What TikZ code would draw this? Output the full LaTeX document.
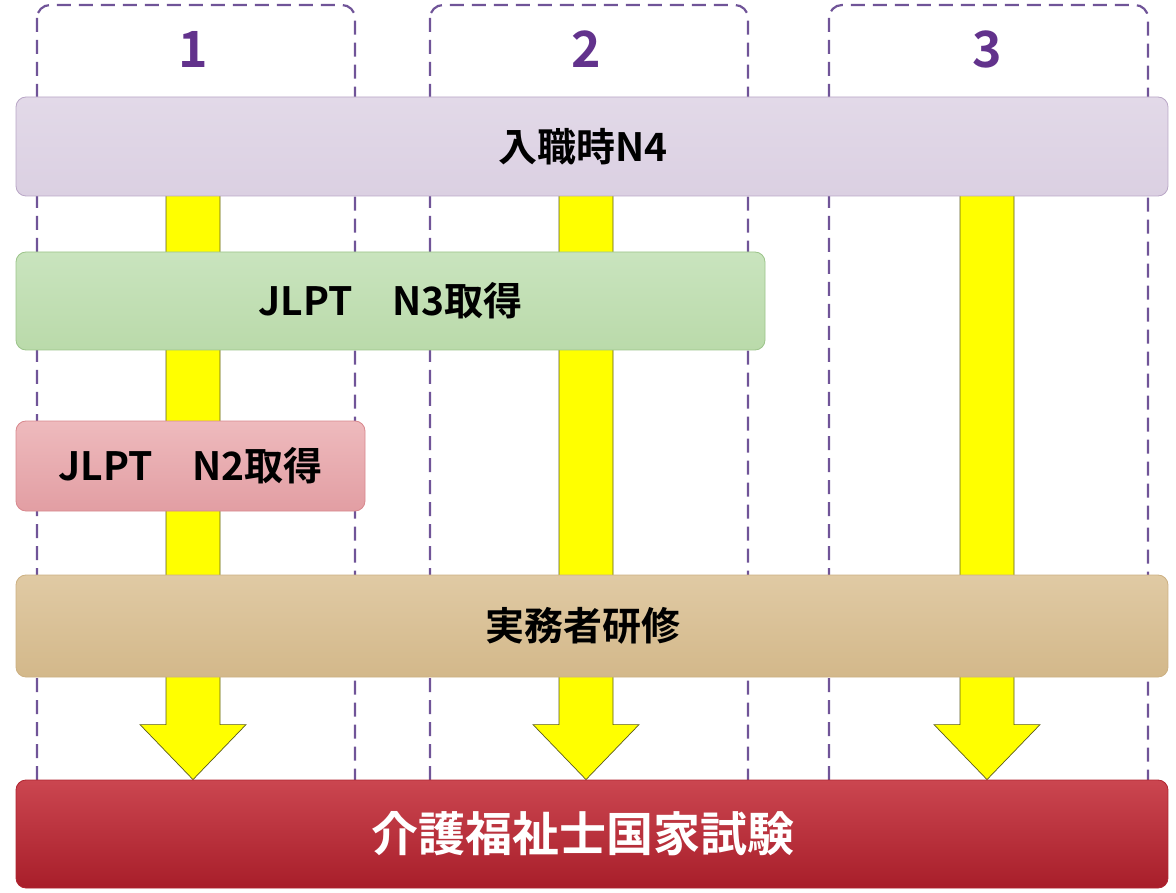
\documentclass[tikz,border=0pt]{standalone}
\usepackage{fontspec}
\setmainfont{Noto Sans CJK JP}[BoldFont={* Bold}]
\usepackage{tikz}
\usetikzlibrary{positioning,calc,backgrounds}
\definecolor{colline}{RGB}{112,84,152}
\definecolor{numcol}{RGB}{98,50,140}
\definecolor{arrowfill}{RGB}{255,255,0}
\definecolor{arrowline}{RGB}{90,90,30}
\tikzset{
x=1pt, y=-1pt, % one unit is one pixel of the slide, y runs downwards
colbox/.style={draw=colline, line width=2.2pt, dash pattern=on 14pt off 8pt, rounded corners=13pt}, % the dashed column frames
colnum/.style={text=numcol, font=\fontsize{50}{56}\selectfont\bfseries}, % the column numbers
bar/.style={rectangle, rounded corners=10pt, line width=0.8pt, inner sep=0pt, font=\fontsize{39}{44}\selectfont\bfseries}, % every bar
widebar/.style={bar, execute at begin node={\hspace*{-18pt}}}, % full width bars, text a bit left
bigarrow/.style={fill=arrowfill, draw=arrowline, line width=0.7pt, line join=miter}, % the yellow block arrows
}
\begin{document}
\begin{tikzpicture}
        \useasboundingbox (0,0) rectangle (1176,893);
        \node[colnum] at (193,49) (n1) {1};
        \node[colnum] at (586,49) (n2) {2};
        \node[colnum] at (987,49) (n3) {3};
        \node[widebar, draw={rgb,255:red,185;green,166;blue,198}, top color={rgb,255:red,226;green,217;blue,232}, bottom color={rgb,255:red,219;green,208;blue,226}, minimum width=1152, minimum height=99] at (592,146.5) (top) {入職時N4};
        \node[bar, draw={rgb,255:red,156;green,196;blue,138}, top color={rgb,255:red,201;green,228;blue,190}, bottom color={rgb,255:red,186;green,218;blue,170}, minimum width=749, minimum height=98] at (390.5,301) (n3get) {JLPT　N3取得};
        \node[bar, draw={rgb,255:red,216;green,136;blue,142}, top color={rgb,255:red,238;green,186;blue,189}, bottom color={rgb,255:red,226;green,158;blue,163}, minimum width=349, minimum height=90] at (190.5,466) (n2get) {JLPT　N2取得};
        \node[widebar, draw={rgb,255:red,204;green,176;blue,130}, top color={rgb,255:red,224;green,202;blue,164}, bottom color={rgb,255:red,211;green,184;blue,138}, minimum width=1152, minimum height=102] at (592,626) (train) {実務者研修};
        \node[widebar, draw={rgb,255:red,176;green,36;blue,48}, top color={rgb,255:red,203;green,70;blue,80}, bottom color={rgb,255:red,168;green,30;blue,42}, text=white, font=\fontsize{47}{54}\selectfont\bfseries, minimum width=1152, minimum height=108] at (592,834) (exam) {介護福祉士国家試験};
        \begin{scope}[on background layer]
        \draw[colbox] (37,5) rectangle (355,830);
        \draw[colbox] (430,5) rectangle (748,830);
        \draw[colbox] (829,5) rectangle (1148,830);
        \foreach \i in {1,2,3}
            \draw[bigarrow] (n\i |- exam.north) -- ++(-53,-55) -- ++(26,0)
                -- ($(n\i |- top.center)+(-27,0)$) -- ++(54,0)
                -- ($(n\i |- exam.north)+(27,-55)$) -- ++(26,0) -- cycle;
        \end{scope}
    \end{tikzpicture}
\end{document}
